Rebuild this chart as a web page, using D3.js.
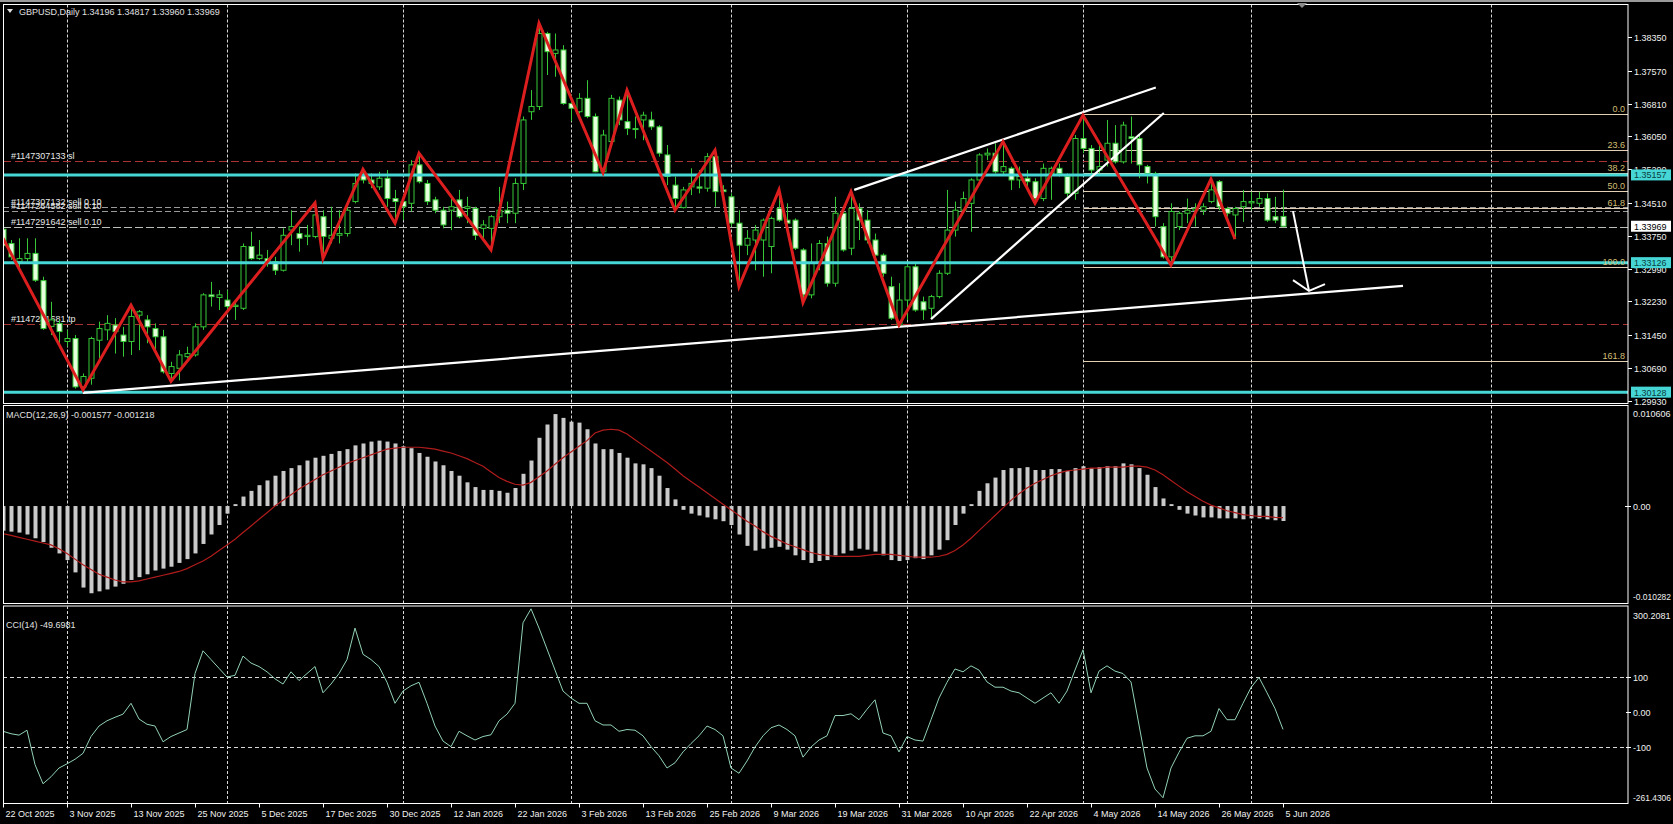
<!DOCTYPE html>
<html><head><meta charset="utf-8">
<script src="https://cdn.jsdelivr.net/npm/d3@7"></script>
<style>
body{margin:0;background:#000;overflow:hidden}
text{font-family:"Liberation Sans",Arial,sans-serif;font-size:9px}
</style>
</head><body>
<svg id="c" width="1673" height="824"></svg>
<script>
// ---------------- DATA ----------------
const symbolTitle = "GBPUSD,Daily  1.34196 1.34817 1.33960 1.33969";
const openP = [1.3390,1.3357,1.3315,1.3322,1.3334,1.3271,1.3165,1.3172,1.3130,1.3137,1.3025,1.3045,1.3133,1.3157,1.3168,1.3145,1.3130,1.3191,1.3180,1.3160,
1.3141,1.3056,1.3068,1.3095,1.3099,1.3164,1.3238,1.3232,1.3226,1.3211,1.3207,1.3350,1.3322,1.3322,1.3315,1.3295,1.3388,1.3380,1.3373,1.3373,
1.3419,1.3369,1.3376,1.3380,1.3454,1.3515,1.3504,1.3488,1.3508,1.3461,1.3454,1.3450,1.3539,1.3496,1.3458,1.3434,1.3434,1.3458,1.3438,1.3438,
1.3392,1.3392,1.3419,1.3434,1.3427,1.3496,1.3662,1.3674,1.3843,1.3797,1.3805,1.3681,1.3662,1.3693,1.3651,1.3523,1.3593,1.3689,1.3639,1.3623,
1.3643,1.3643,1.3627,1.3562,1.3492,1.3440,1.3488,1.3488,1.3485,1.3558,1.3481,1.3465,1.3404,1.3353,1.3365,1.3365,1.3350,1.3438,1.3411,1.3411,
1.3342,1.3238,1.3311,1.3357,1.3265,1.3427,1.3346,1.3438,1.3411,1.3365,1.3330,1.3257,1.3168,1.3226,1.3303,1.3222,1.3207,1.3234,1.3288,1.3388,
1.3434,1.3450,1.3504,1.3562,1.3566,1.3523,1.3531,1.3504,1.3508,1.3500,1.3461,1.3519,1.3531,1.3512,1.3473,1.3600,1.3577,1.3527,1.3550,1.3589,
1.3546,1.3604,1.3600,1.3535,1.3519,1.3396,1.3326,1.3396,1.3427,1.3434,1.3434,1.3454,1.3500,1.3438,1.3423,1.3442,1.3451,1.3450,1.3461,1.3419,
1.34196];
const highP = [1.3402,1.3365,1.3369,1.3369,1.3369,1.3280,1.3222,1.3180,1.3157,1.3145,1.3056,1.3141,1.3176,1.3191,1.3184,1.3164,1.3214,1.3203,1.3191,1.3172,
1.3157,1.3083,1.3110,1.3118,1.3172,1.3242,1.3268,1.3249,1.3249,1.3226,1.3357,1.3384,1.3365,1.3342,1.3326,1.3392,1.3434,1.3396,1.3400,1.3451,
1.3434,1.3442,1.3434,1.3442,1.3519,1.3529,1.3519,1.3523,1.3527,1.3481,1.3465,1.3550,1.3566,1.3504,1.3465,1.3442,1.3465,1.3481,1.3465,1.3442,
1.3411,1.3423,1.3488,1.3454,1.3508,1.3651,1.3712,1.3867,1.3847,1.3843,1.3816,1.3700,1.3705,1.3735,1.3658,1.3620,1.3701,1.3697,1.3712,1.3651,
1.3662,1.3662,1.3631,1.3585,1.3512,1.3488,1.3531,1.3527,1.3566,1.3573,1.3492,1.3473,1.3434,1.3388,1.3400,1.3415,1.3419,1.3481,1.3450,1.3415,
1.3346,1.3357,1.3365,1.3373,1.3465,1.3434,1.3477,1.3450,1.3434,1.3380,1.3334,1.3280,1.3265,1.3311,1.3311,1.3234,1.3238,1.3295,1.3481,1.3454,
1.3477,1.3508,1.3566,1.3577,1.3589,1.3593,1.3535,1.3535,1.3527,1.3508,1.3542,1.3535,1.3542,1.3519,1.3608,1.3654,1.3585,1.3589,1.3643,1.3631,
1.3639,1.3651,1.3608,1.3539,1.3523,1.3404,1.3450,1.3431,1.3461,1.3450,1.3450,1.3506,1.3504,1.3442,1.3442,1.3481,1.3477,1.3477,1.3473,1.3465,
1.34817];
const lowP = [1.3345,1.3319,1.3295,1.3315,1.3268,1.3157,1.3145,1.3126,1.3118,1.3021,1.3018,1.3030,1.3087,1.3133,1.3102,1.3095,1.3099,1.3110,1.3126,1.3110,
1.3056,1.3038,1.3040,1.3091,1.3095,1.3157,1.3211,1.3203,1.3203,1.3180,1.3203,1.3319,1.3319,1.3303,1.3284,1.3292,1.3353,1.3338,1.3353,1.3369,
1.3322,1.3357,1.3357,1.3373,1.3450,1.3496,1.3485,1.3481,1.3442,1.3404,1.3411,1.3431,1.3496,1.3446,1.3427,1.3392,1.3388,1.3415,1.3404,1.3365,
1.3365,1.3342,1.3404,1.3404,1.3404,1.3481,1.3643,1.3666,1.3747,1.3743,1.3678,1.3640,1.3658,1.3647,1.3522,1.3521,1.3589,1.3631,1.3608,1.3600,
1.3596,1.3620,1.3558,1.3492,1.3434,1.3438,1.3469,1.3473,1.3477,1.3442,1.3473,1.3396,1.3257,1.3330,1.3295,1.3280,1.3288,1.3407,1.3396,1.3342,
1.3220,1.3230,1.3295,1.3257,1.3257,1.3338,1.3330,1.3365,1.3357,1.3322,1.3280,1.3180,1.3168,1.3180,1.3199,1.3180,1.3184,1.3230,1.3284,1.3373,
1.3427,1.3384,1.3496,1.3550,1.3519,1.3515,1.3481,1.3485,1.3481,1.3450,1.3455,1.3458,1.3512,1.3465,1.3458,1.3566,1.3519,1.3519,1.3535,1.3542,
1.3542,1.3542,1.3508,1.3496,1.3396,1.3322,1.3307,1.3388,1.3404,1.3396,1.3423,1.3450,1.3434,1.3419,1.3367,1.3407,1.3434,1.3442,1.3407,1.3404,
1.33960];
const closeP = [1.3352,1.3326,1.3322,1.3334,1.3272,1.3160,1.3180,1.3153,1.3137,1.3025,1.3049,1.3137,1.3160,1.3172,1.3153,1.3130,1.3188,1.3199,1.3164,1.3141,
1.3060,1.3072,1.3099,1.3102,1.3164,1.3238,1.3234,1.3238,1.3211,1.3214,1.3350,1.3322,1.3330,1.3315,1.3295,1.3376,1.3396,1.3369,1.3376,1.3423,
1.3373,1.3376,1.3380,1.3434,1.3496,1.3504,1.3496,1.3508,1.3461,1.3454,1.3442,1.3539,1.3500,1.3454,1.3434,1.3400,1.3442,1.3419,1.3442,1.3376,
1.3400,1.3419,1.3434,1.3427,1.3496,1.3643,1.3674,1.3843,1.3801,1.3805,1.3681,1.3670,1.3693,1.3651,1.3523,1.3608,1.3693,1.3643,1.3623,1.3621,
1.3654,1.3627,1.3566,1.3512,1.3461,1.3481,1.3496,1.3485,1.3558,1.3477,1.3477,1.3404,1.3353,1.3369,1.3388,1.3411,1.3415,1.3411,1.3404,1.3346,
1.3238,1.3311,1.3357,1.3265,1.3427,1.3342,1.3438,1.3411,1.3365,1.3330,1.3288,1.3184,1.3226,1.3303,1.3203,1.3203,1.3234,1.3288,1.3388,1.3434,
1.3461,1.3504,1.3562,1.3566,1.3523,1.3535,1.3504,1.3512,1.3500,1.3461,1.3531,1.3531,1.3519,1.3473,1.3600,1.3577,1.3527,1.3535,1.3589,1.3546,
1.3631,1.3600,1.3539,1.3519,1.3419,1.3326,1.3431,1.3427,1.3434,1.3438,1.3442,1.3481,1.3442,1.3427,1.3438,1.3454,1.3454,1.3461,1.3411,1.3411,
1.33969];

const zigzagBars   = [0,10,16,21,39,40,45,49,52,61,67,75,78,84,89,92,97,100,106,112,125,129,135,146,151,154];
const zigzagPrices = [1.3369,1.3018,1.3214,1.3038,1.3451,1.3322,1.3529,1.3404,1.3566,1.3342,1.3867,1.3521,1.3712,1.3434,1.3573,1.3257,1.3481,1.3220,1.3477,1.3168,1.3593,1.3450,1.3654,1.3307,1.3506,1.3367];

const macdHist = [-0.0026,-0.0027,-0.0028,-0.0030,-0.0034,-0.0038,-0.0044,-0.0050,-0.0057,-0.0070,-0.0086,-0.0092,-0.0090,-0.0088,-0.0085,-0.0082,-0.0078,-0.0075,-0.0072,-0.0068,
-0.0066,-0.0064,-0.0060,-0.0056,-0.0050,-0.0040,-0.0030,-0.0020,-0.0008,0.0002,0.0010,0.0016,0.0022,0.0027,0.0032,0.0037,0.0040,0.0043,0.0048,0.0051,
0.0053,0.0055,0.0058,0.0060,0.0064,0.0066,0.0068,0.0069,0.0068,0.0066,0.0063,0.0061,0.0056,0.0052,0.0047,0.0043,0.0037,0.0032,0.0025,0.0020,
0.0017,0.0017,0.0016,0.0014,0.0019,0.0034,0.0048,0.0072,0.0086,0.0097,0.0093,0.0089,0.0088,0.0081,0.0066,0.0060,0.0060,0.0056,0.0051,0.0045,
0.0044,0.0040,0.0032,0.0019,0.0007,-0.0004,-0.0008,-0.0010,-0.0012,-0.0014,-0.0016,-0.0020,-0.0030,-0.0042,-0.0047,-0.0045,-0.0044,-0.0043,-0.0046,-0.0052,
-0.0057,-0.0060,-0.0058,-0.0057,-0.0052,-0.0050,-0.0047,-0.0045,-0.0046,-0.0048,-0.0052,-0.0057,-0.0058,-0.0057,-0.0055,-0.0056,-0.0052,-0.0046,-0.0036,-0.0020,
-0.0008,0.0002,0.0016,0.0024,0.0030,0.0038,0.0040,0.0040,0.0041,0.0038,0.0038,0.0039,0.0039,0.0037,0.0040,0.0042,0.0040,0.0041,0.0042,0.0042,
0.0045,0.0044,0.0040,0.0033,0.0020,0.0008,0.0002,-0.0004,-0.0008,-0.0010,-0.0012,-0.0012,-0.0013,-0.0013,-0.0013,-0.0014,-0.0013,-0.0013,-0.0014,-0.0015,
-0.001577];
const macdSignal = [-0.0029,-0.0031,-0.0033,-0.0035,-0.0037,-0.0039,-0.0041,-0.0045,-0.0050,-0.0056,-0.0062,-0.0067,-0.0072,-0.0075,-0.0078,-0.0080,-0.0080,-0.0079,-0.0077,-0.0075,
-0.0073,-0.0071,-0.0069,-0.0066,-0.0062,-0.0058,-0.0053,-0.0047,-0.0041,-0.0035,-0.0028,-0.0021,-0.0014,-0.0007,0.0000,0.0006,0.0012,0.0018,0.0023,0.0028,
0.0033,0.0037,0.0041,0.0045,0.0048,0.0051,0.0054,0.0057,0.0060,0.0061,0.0062,0.0062,0.0062,0.0061,0.0060,0.0058,0.0056,0.0053,0.0050,0.0046,
0.0042,0.0036,0.0030,0.0026,0.0023,0.0022,0.0025,0.0031,0.0037,0.0044,0.0051,0.0057,0.0063,0.0069,0.0077,0.0080,0.0081,0.0080,0.0076,0.0070,
0.0064,0.0058,0.0052,0.0046,0.0039,0.0032,0.0026,0.0020,0.0014,0.0008,0.0002,-0.0004,-0.0010,-0.0016,-0.0021,-0.0027,-0.0032,-0.0036,-0.0040,-0.0043,
-0.0046,-0.0049,-0.0051,-0.0052,-0.0053,-0.0053,-0.0053,-0.0053,-0.0052,-0.0051,-0.0051,-0.0051,-0.0052,-0.0053,-0.0054,-0.0054,-0.0054,-0.0053,-0.0051,-0.0047,
-0.0041,-0.0034,-0.0026,-0.0018,-0.0010,-0.0002,0.0006,0.0013,0.0019,0.0024,0.0028,0.0032,0.0035,0.0037,0.0038,0.0039,0.0040,0.0040,0.0041,0.0041,
0.0041,0.0042,0.0042,0.0041,0.0038,0.0033,0.0027,0.0021,0.0015,0.0010,0.0005,0.0001,-0.0002,-0.0005,-0.0007,-0.0009,-0.0010,-0.0011,-0.0011,-0.0012,
-0.001218];
const cci = [-55,-62,-66,-52,-150,-205,-185,-160,-148,-135,-118,-70,-40,-25,-15,-6,25,-20,-35,-40,
-85,-70,-60,-50,110,175,150,125,100,105,160,140,130,115,95,80,115,90,110,130,
55,80,110,150,240,165,150,130,85,25,60,75,85,25,-40,-83,-99,-55,-68,-80,
-70,-65,-25,-6,25,255,295,240,180,120,60,40,25,25,-25,-37,-37,-55,-50,-52,
-68,-99,-125,-160,-145,-114,-90,-68,-40,-50,-68,-160,-175,-140,-100,-68,-45,-37,-50,-68,
-129,-100,-80,-68,-10,-10,-5,-22,8,35,-60,-68,-114,-70,-80,-83,-22,40,85,123,
115,132,120,86,71,71,60,55,40,25,40,55,25,60,120,178,55,117,132,117,
110,86,-37,-160,-220,-245,-160,-115,-75,-68,-68,-55,10,-22,-22,25,70,99,55,10,
-49.6981];

const priceTicks = ["1.38350","1.37570","1.36810","1.36050","1.35290","1.34510","1.33750","1.32990","1.32230","1.31450","1.30690","1.29930"];
const dateLabels = ["22 Oct 2025","3 Nov 2025","13 Nov 2025","25 Nov 2025","5 Dec 2025","17 Dec 2025","30 Dec 2025","12 Jan 2026","22 Jan 2026","3 Feb 2026","13 Feb 2026","25 Feb 2026","9 Mar 2026","19 Mar 2026","31 Mar 2026","10 Apr 2026","22 Apr 2026","4 May 2026","14 May 2026","26 May 2026","5 Jun 2026"];
const dateLabelBars = [0,8,16,24,32,40,48,56,64,72,80,88,96,104,112,120,128,136,144,152,160];
const gridBars = [8,28,50,71,91,113,135,156,186];

const supportLevels = [1.35157, 1.33126, 1.30128];
const currentPrice = 1.33969;
const orderLines = [
  {label:"#1147307133 sl", price:1.3549, kind:"sl"},
  {label:"#1147307132 sell 0.10", price:1.3442, kind:"sell"},
  {label:"#1147264582 sell 0.10", price:1.3432, kind:"sell"},
  {label:"#1147291642 sell 0.10", price:1.3396, kind:"sell2"},
  {label:"#1147231681 tp", price:1.3170, kind:"tp"}
];
const fibAnchorBar = 135, fib0 = 1.36560, fib100 = 1.33032;
const fibLevels = [0, 23.6, 38.2, 50, 61.8, 100, 161.8];
const fibLabels = ["0.0","23.6","38.2","50.0","61.8","100.0","161.8"];
const trendLines = [
  [[10,1.3011],[175,1.3259]],
  [[106.4,1.3481],[144.1,1.3718]],
  [[116,1.3182],[145.1,1.3659]]
];
const arrowShaft = [[161.25,1.3432],[163.25,1.3247]];
const arrowHead = [[161.25,1.3272],[163.25,1.3247],[165.25,1.3263]];

const macdTitle = "MACD(12,26,9) -0.001577 -0.001218";
const macdTicks = ["0.010606","0.00","-0.010282"];
const macdTickVals = [0.010606,0,-0.010282];
const cciTitle = "CCI(14) -49.6981";
const cciTicks = ["300.2081","100","0.00","-100","-261.4306"];
const cciTickVals = [300.2081,100,0,-100,-261.4306];

// ---------------- LAYOUT ----------------
const L = 3, R = 1628;
const mainT = 4.5, mainB = 403.5, macdT = 405.5, macdB = 603.5, cciT = 606, cciB = 803.5;
const svg = d3.select("#c");
const W = 1673, H = 824;
svg.append("rect").attr("width",W).attr("height",H).attr("fill","#000");
svg.append("rect").attr("x",0).attr("y",0).attr("width",W).attr("height",2).attr("fill","#9a9a9a");

const x = d3.scaleLinear().domain([0,160]).range([3,1283]);
const yM = d3.scaleLinear().domain([1.2993,1.3835]).range([400.7,37]);
const yD = d3.scaleLinear().domain([-0.010282,0.010606]).range([603.5,405.5]);
const yC = d3.scaleLinear().domain([-261.4306,300.2081]).range([803.5,607]);

const defs = svg.append("defs");
function clip(id,y0,y1){ defs.append("clipPath").attr("id",id).append("rect").attr("x",L+1).attr("y",y0).attr("width",R-L-1).attr("height",y1-y0); }
clip("cm",mainT+0.5,mainB-0.5); clip("cd",macdT+0.5,macdB-0.5); clip("cc",cciT+0.5,cciB-0.5);

const gM = svg.append("g").attr("clip-path","url(#cm)");
const gD = svg.append("g").attr("clip-path","url(#cd)");
const gC = svg.append("g").attr("clip-path","url(#cc)");

// grids
[[gM,mainT,mainB],[gD,macdT,macdB],[gC,cciT,cciB]].forEach(([g,a,b])=>{
  g.selectAll(null).data(gridBars).enter().append("line")
    .attr("x1",d=>Math.round(x(d))+0.5).attr("x2",d=>Math.round(x(d))+0.5)
    .attr("y1",a).attr("y2",b).attr("stroke","#d8d8d8").attr("stroke-width",1).attr("stroke-dasharray","3,2");
});

// fib lines
const fibPrice = lv => fib0 - (fib0-fib100)*lv/100;
gM.selectAll(null).data(fibLevels).enter().append("line")
  .attr("x1",Math.round(x(fibAnchorBar))+0.5).attr("x2",R)
  .attr("y1",d=>Math.round(yM(fibPrice(d)))+0.5).attr("y2",d=>Math.round(yM(fibPrice(d)))+0.5)
  .attr("stroke","#e4d0b4").attr("stroke-width",1);

// order lines
const orderStyle = {sl:["#a83434","8,4"], tp:["#a83434","8,4"], sell:["#9a9a9a","6,3"], sell2:["#b8c0b8","8,3"]};
orderLines.forEach(o=>{
  const yy = Math.round(yM(o.price))+0.5;
  gM.append("line").attr("x1",L).attr("x2",R).attr("y1",yy).attr("y2",yy)
    .attr("stroke",orderStyle[o.kind][0]).attr("stroke-dasharray",orderStyle[o.kind][1]).attr("stroke-width",1);
  gM.append("text").attr("x",11).attr("y",yy-3).attr("fill","#e8e8e8").text(o.label);
});

// candles
const idx = d3.range(openP.length);
const cg = gM.append("g");
idx.forEach(i=>{
  const cx = Math.round(x(i))+0.5;
  const o=openP[i], h=highP[i], l=lowP[i], c=closeP[i];
  cg.append("line").attr("x1",cx).attr("x2",cx).attr("y1",yM(h)).attr("y2",yM(l)).attr("stroke","#36c836").attr("stroke-width",1);
  const top = yM(Math.max(o,c)), bot = yM(Math.min(o,c));
  cg.append("rect").attr("x",cx-2.5).attr("y",top).attr("width",5).attr("height",Math.max(1,bot-top))
    .attr("fill", c<o ? "#e6ffdc" : "#000").attr("stroke","#36c836").attr("stroke-width",1);
});

// cyan support lines
gM.selectAll(null).data(supportLevels).enter().append("line")
  .attr("x1",L).attr("x2",R).attr("y1",d=>yM(d)).attr("y2",d=>yM(d))
  .attr("stroke","#46d6d6").attr("stroke-width",3);

// fib labels
gM.selectAll(null).data(fibLevels).enter().append("text")
  .attr("x",R-3).attr("y",d=>Math.round(yM(fibPrice(d)))-2).attr("text-anchor","end")
  .attr("fill","#d2bf74").text((d,i)=>fibLabels[i]);

// trend lines
const lineM = d3.line().x(d=>x(d[0])).y(d=>yM(d[1]));
trendLines.forEach(t=>gM.append("path").attr("d",lineM(t)).attr("stroke","#fff").attr("stroke-width",2.2).attr("fill","none"));
gM.append("path").attr("d",lineM(arrowShaft)).attr("stroke","#fff").attr("stroke-width",2).attr("fill","none");
gM.append("path").attr("d",lineM(arrowHead)).attr("stroke","#fff").attr("stroke-width",2).attr("fill","none");

// zigzag
gM.append("path").attr("d",d3.line().x((d,i)=>x(zigzagBars[i])).y(d=>yM(d))(zigzagPrices))
  .attr("stroke","#dc1e1e").attr("stroke-width",3).attr("fill","none").attr("stroke-linejoin","miter");

// MACD
gD.selectAll(null).data(macdHist).enter().append("rect")
  .attr("x",(d,i)=>Math.round(x(i))-1.5).attr("width",4)
  .attr("y",d=>Math.min(yD(d),yD(0))).attr("height",d=>Math.max(1,Math.abs(yD(d)-yD(0))))
  .attr("fill","#cacaca");
gD.append("path").attr("d",d3.line().x((d,i)=>x(i)).y(d=>yD(d))(macdSignal))
  .attr("stroke","#b01c1c").attr("stroke-width",1.2).attr("fill","none");

// CCI
[100,-100].forEach(v=>gC.append("line").attr("x1",L).attr("x2",R).attr("y1",Math.round(yC(v))+0.5).attr("y2",Math.round(yC(v))+0.5)
  .attr("stroke","#d8d8d8").attr("stroke-dasharray","4,3"));
gC.append("path").attr("d",d3.line().x((d,i)=>x(i)).y(d=>yC(d))(cci))
  .attr("stroke","#92d2b6").attr("stroke-width",1).attr("fill","none");

// frames
const fr = svg.append("g").attr("stroke","#fff").attr("stroke-width",1).attr("fill","none");
[[mainT,mainB],[macdT,macdB],[cciT,cciB]].forEach(([a,b])=>{
  fr.append("rect").attr("x",L+0.5).attr("y",a).attr("width",R-L-0.5).attr("height",b-a);
});

// titles
svg.append("path").attr("d","M7,9 L13,9 L10,13 Z").attr("fill","#e0e0e0");
svg.append("text").attr("x",19).attr("y",15).attr("fill","#e0e0e0").text(symbolTitle);
svg.append("path").attr("d","M1297,3 L1307,3 L1302,8 Z").attr("fill","#8a8a8a");
svg.append("text").attr("x",6).attr("y",418).attr("fill","#e0e0e0").text(macdTitle);
svg.append("text").attr("x",6).attr("y",628).attr("fill","#e0e0e0").text(cciTitle);

// right axis - price
const ax = svg.append("g");
priceTicks.forEach(t=>{
  const yy = Math.round(yM(+t))+0.5;
  ax.append("line").attr("x1",R).attr("x2",R+4).attr("y1",yy).attr("y2",yy).attr("stroke","#fff");
  ax.append("text").attr("x",R+6).attr("y",yy+3.5).attr("fill","#f0f0f0").text(t);
});
function box(price,bg,fg,label){
  const yy = yM(price);
  ax.append("rect").attr("x",R+3).attr("y",yy-5.5).attr("width",40).attr("height",11).attr("fill",bg);
  ax.append("text").attr("x",R+6).attr("y",yy+3.5).attr("fill",fg).text(label);
}
supportLevels.forEach(p=>box(p,"#46d6d6","#0b3d3d",p.toFixed(5)));
box(currentPrice,"#ffffff","#000",currentPrice.toFixed(5));

function sideText(t,yy){
  const tx = ax.append("text").attr("x",R+5).attr("y",yy+3.5).attr("fill","#f0f0f0").text(t);
  if(t.length>8) tx.attr("textLength",38).attr("lengthAdjust","spacingAndGlyphs");
}
macdTicks.forEach((t,i)=>{
  const v = macdTickVals[i];
  let yy = yD(v);
  if(i===0) yy = macdT+8; if(i===2) yy = macdB-7;
  if(i===1) ax.append("line").attr("x1",R-3).attr("x2",R+3).attr("y1",Math.round(yy)+0.5).attr("y2",Math.round(yy)+0.5).attr("stroke","#fff");
  sideText(t,yy);
});
cciTicks.forEach((t,i)=>{
  const v = cciTickVals[i];
  let yy = yC(v);
  if(i===0) yy = cciT+9; if(i===4) yy = cciB-6;
  if(i>0 && i<4) ax.append("line").attr("x1",R-2).attr("x2",R+3).attr("y1",Math.round(yy)+0.5).attr("y2",Math.round(yy)+0.5).attr("stroke","#fff");
  sideText(t,yy);
});

// x axis
dateLabels.forEach((t,i)=>{
  const xx = Math.round(x(dateLabelBars[i]))+0.5;
  ax.append("line").attr("x1",xx).attr("x2",xx).attr("y1",cciB).attr("y2",cciB+4).attr("stroke","#fff");
  ax.append("text").attr("x",xx+2).attr("y",817).attr("fill","#f0f0f0").text(t);
});
</script>
</body></html>
